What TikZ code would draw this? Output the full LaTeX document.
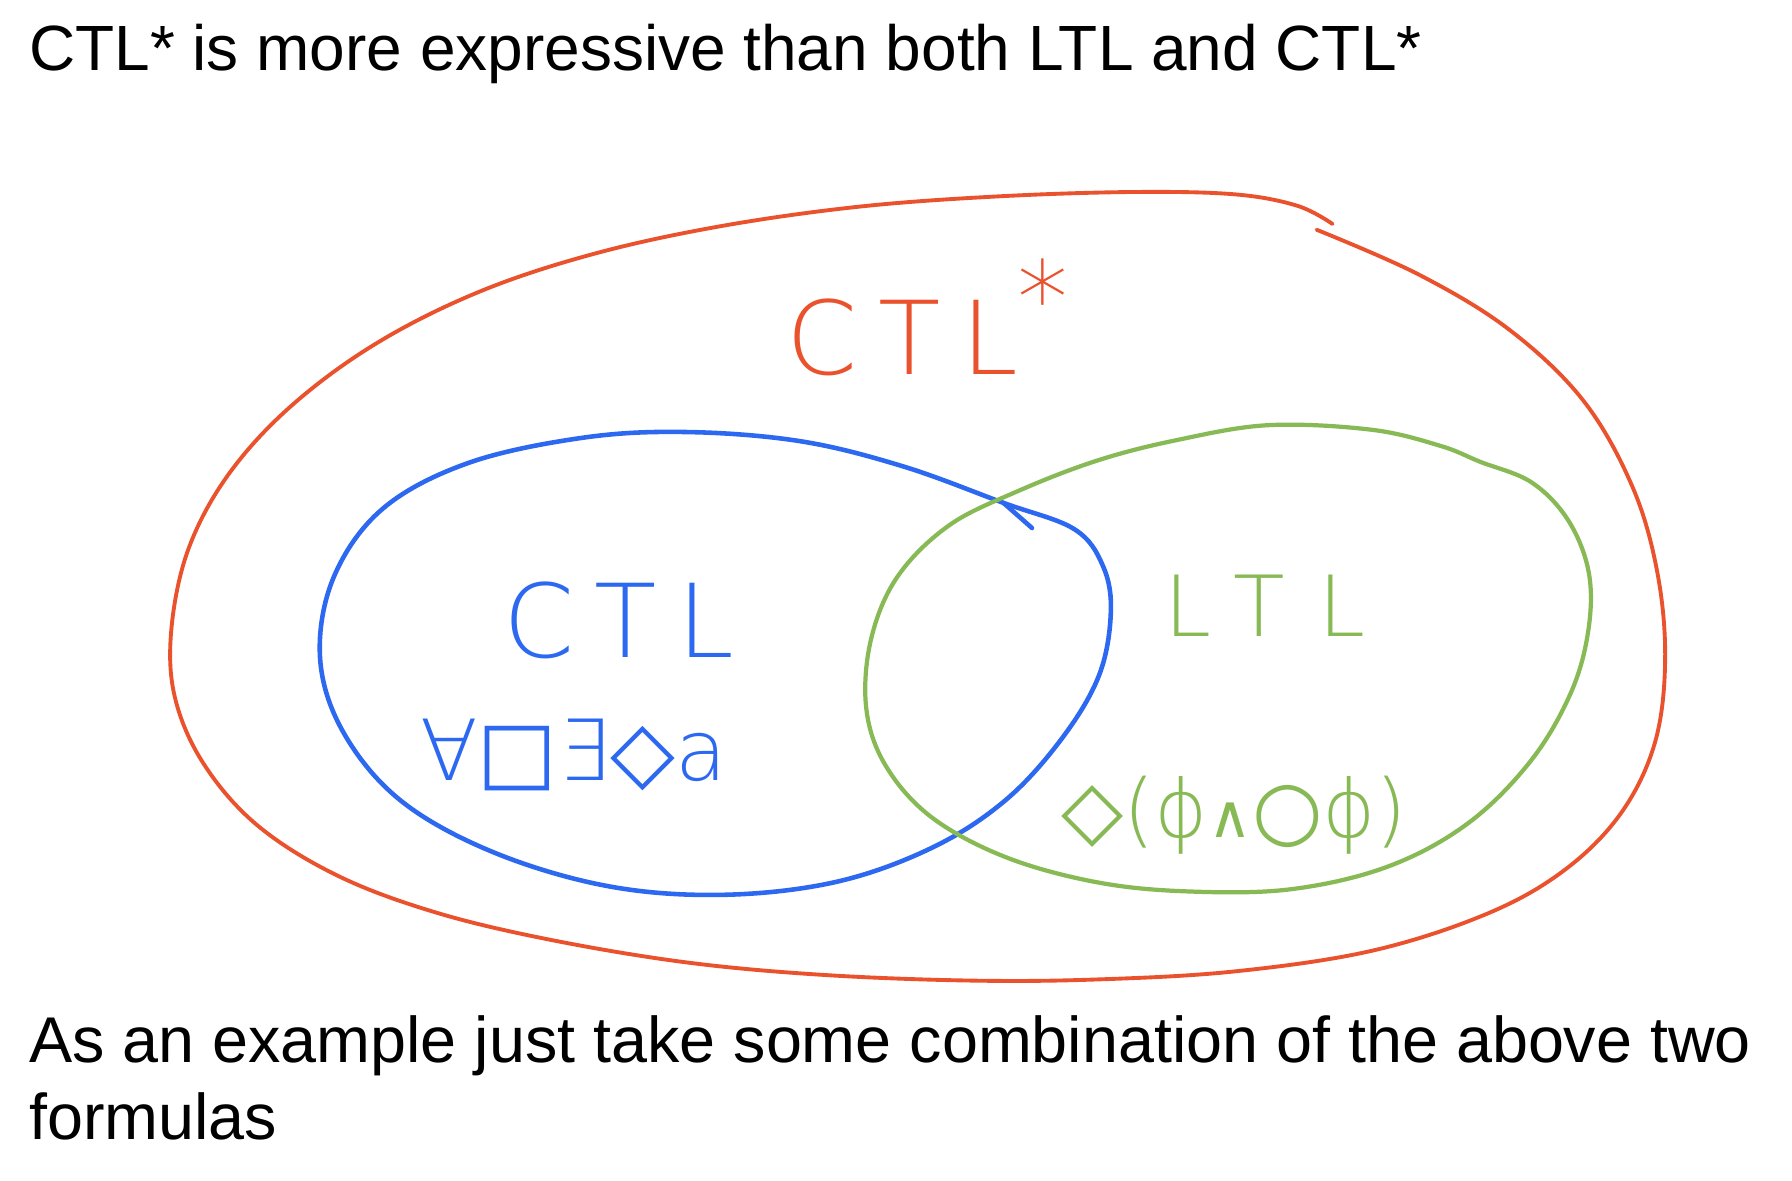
\documentclass[tikz,border=0pt]{standalone}
\usepackage{fontspec}
\setmainfont{Liberation Sans}
\newfontfamily\symf{DejaVu Sans}
\IfFontExistsTF{DejaVu Sans ExtraLight}
  {\newfontfamily\hand{DejaVu Sans ExtraLight}}
  {\newfontfamily\hand{DejaVu Sans}}
\newcommand{\sy}[1]{{\symf #1}}
\definecolor{cred}{RGB}{234,82,45}
\definecolor{cblue}{RGB}{45,105,240}
\definecolor{cgreen}{RGB}{135,185,85}
\tikzset{
  redline/.style={draw=cred, line width=1.1pt, line cap=round, line join=round},
  blueline/.style={draw=cblue, line width=1.3pt, line cap=round, line join=round},
  greenline/.style={draw=cgreen, line width=1.2pt, line cap=round, line join=round},
  bodytext/.style={anchor=base west, inner sep=0pt, font=\fontsize{18.2}{22}\selectfont},
  handlabel/.style={anchor=base west, inner sep=0pt},
}
\begin{document}
\begin{tikzpicture}[x=0.011429cm, y=-0.011429cm]
\useasboundingbox (0,0) rectangle (1568,1033);
\fill[white] (0,0) rectangle (1568,1033);

\node[bodytext] (title) at (25,62) {CTL* is more expressive than both LTL and CTL*};
\node[bodytext, font=\fontsize{18.4}{22}\selectfont] (note1) at (25,930) {As an example just take some combination of the above two};
\node[bodytext, font=\fontsize{18.4}{22}\selectfont] (note2) at (25,997) {formulas};

% outer CTL* region
\draw[redline] plot[smooth, tension=0.6] coordinates {
 (1152,201) (1241,240) (1320,288) (1385,350) (1428,425) (1450,500) (1457,577)
 (1448,650) (1418,712) (1368,762) (1300,800) (1200,832) (1080,850)
 (960,857) (850,858) (720,853) (600,842) (480,822) (380,798) (295,766)
 (225,722) (178,668) (153,610) (150,550) (165,480) (200,415) (255,355)
 (330,300) (420,255) (520,222) (630,198) (750,181) (870,172) (990,168)
 (1080,170) (1135,180) (1166,196)};

% CTL region
\draw[blueline] plot[smooth cycle, tension=0.6] coordinates {
 (878,440) (940,463) (965,495) (972,535) (962,590) (930,645) (880,700)
 (815,742) (730,772) (630,783) (530,775) (430,745) (350,700) (300,640)
 (280,575) (292,505) (335,445) (410,405) (510,383) (600,378) (700,386)
 (790,408)};
\draw[blueline] (878,440) -- (903,462);

% LTL region
\draw[greenline] plot[smooth cycle, tension=0.6] coordinates {
 (1110,372) (1200,376) (1260,390) (1295,404) (1340,422) (1372,455)
 (1390,500) (1390,550) (1375,605) (1340,665) (1285,720) (1215,758)
 (1130,778) (1040,780) (960,772) (880,750) (815,715) (775,670) (758,620)
 (762,560) (785,505) (830,460) (890,430) (960,403) (1030,385)};

% labels
\node[handlabel, text=cred, font=\hand\fontsize{29}{30}\selectfont\addfontfeatures{LetterSpace=20}] (ctlstar) at (688,328) {CTL\raisebox{0.4em}{*}};
\node[handlabel, text=cblue, font=\hand\fontsize{29}{30}\selectfont\addfontfeatures{LetterSpace=20}] (ctl) at (440,575) {CTL};
\node[handlabel, text=cgreen, font=\hand\fontsize{24}{26}\selectfont\addfontfeatures{LetterSpace=40}] (ltl) at (1018,557) {LTL};
\node[handlabel, text=cblue, font=\hand\fontsize{24}{26}\selectfont] (ctlf) at (367,683) {∀\sy{□}∃\sy{◇}a};
\node[handlabel, text=cgreen, font=\hand\fontsize{23}{26}\selectfont] (ltlf) at (928,733) {\sy{◇}(ϕ\sy{\fontsize{17}{17}\selectfont ∧}\sy{○}ϕ)};
\end{tikzpicture}
\end{document}
